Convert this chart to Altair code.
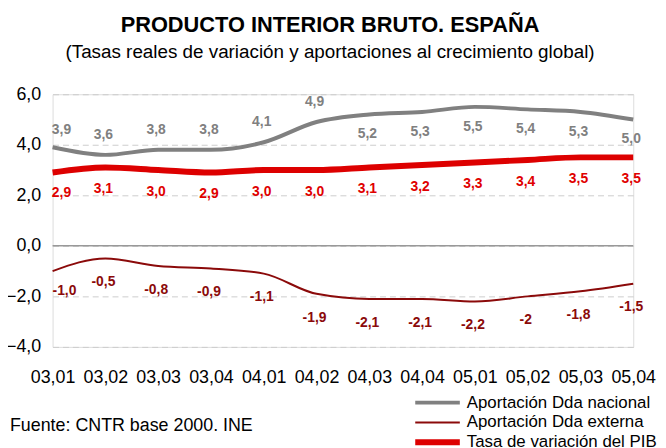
import altair as alt
import pandas as pd

QUARTERS = ["03,01", "03,02", "03,03", "03,04", "04,01", "04,02",
            "04,03", "04,04", "05,01", "05,02", "05,03", "05,04"]
NACIONAL = [3.9, 3.6, 3.8, 3.8, 4.1, 4.9, 5.2, 5.3, 5.5, 5.4, 5.3, 5.0]
EXTERNA = [-1.0, -0.5, -0.8, -0.9, -1.1, -1.9, -2.1, -2.1, -2.2, -2.0, -1.8, -1.5]
PIB = [2.9, 3.1, 3.0, 2.9, 3.0, 3.0, 3.1, 3.2, 3.3, 3.4, 3.5, 3.5]
NACIONAL_LABELS = ["3,9", "3,6", "3,8", "3,8", "4,1", "4,9", "5,2", "5,3", "5,5", "5,4", "5,3", "5,0"]
EXTERNA_LABELS = ["-1,0", "-0,5", "-0,8", "-0,9", "-1,1", "-1,9", "-2,1", "-2,1", "-2,2", "-2", "-1,8", "-1,5"]
PIB_LABELS = ["2,9", "3,1", "3,0", "2,9", "3,0", "3,0", "3,1", "3,2", "3,3", "3,4", "3,5", "3,5"]
SERIES = ["Aportación Dda nacional", "Aportación Dda externa", "Tasa de variación del PIB"]
COLORS = ["#808080", "#8B0A0A", "#DD0000"]
WIDTHS = [4, 2, 6]
Y_TICKS = [-4, -2, 0, 2, 4, 6]
TITLE = "PRODUCTO INTERIOR BRUTO. ESPAÑA"
SUBTITLE = "(Tasas reales de variación y aportaciones al crecimiento global)"
SOURCE = "Fuente: CNTR base 2000. INE"

FONT = "Liberation Sans"

rows = []
for name, vals, labs in zip(SERIES, [NACIONAL, EXTERNA, PIB],
                            [NACIONAL_LABELS, EXTERNA_LABELS, PIB_LABELS]):
    for i, (q, v, l) in enumerate(zip(QUARTERS, vals, labs)):
        rows.append({"q": q, "i": i, "serie": name, "v": v, "label": l})
df = pd.DataFrame(rows)

x_enc = alt.X("q:O", sort=QUARTERS, title=None,
              scale=alt.Scale(type="point", padding=0),
              axis=alt.Axis(labelAngle=0, labelFont=FONT, labelFontSize=18,
                            labelColor="black", ticks=False, tickSize=0,
                            domain=False, grid=False, labelPadding=22))
y_enc = alt.Y("v:Q", title=None,
              scale=alt.Scale(domain=[-4, 6], nice=False, zero=False),
              axis=alt.Axis(values=Y_TICKS, labelFont=FONT, labelFontSize=18,
                            labelColor="black", ticks=False, tickSize=0,
                            domain=False, grid=True, gridColor="#cccccc",
                            gridDash=[6, 4], gridWidth=1, labelPadding=12,
                            labelExpr="replace(format(datum.value, '.1f'), '.', ',')"))

base = alt.Chart(df)

leg = alt.Legend(title=None, orient="none", legendX=363, legendY=301.5,
                 symbolType="stroke", symbolSize=2025, labelFont=FONT,
                 labelFontSize=17, labelColor="black", labelOffset=4,
                 clipHeight=19.5, rowPadding=0, padding=0, labelLimit=400)

zero = alt.Chart(pd.DataFrame({"z": [0]})).mark_rule(
    color="#999999", strokeWidth=1.5).encode(y=alt.Y("z:Q", scale=alt.Scale(domain=[-4, 6])))

lines = base.mark_line(interpolate="monotone").encode(
    x=x_enc, y=y_enc,
    color=alt.Color("serie:N", scale=alt.Scale(domain=SERIES, range=COLORS), legend=leg),
    strokeWidth=alt.StrokeWidth("serie:N",
                                scale=alt.Scale(type="ordinal", domain=SERIES, range=WIDTHS),
                                legend=leg),
)


def labels(serie, color, dy, cond=None, dx=-2):
    ch = base.transform_filter(alt.datum.serie == serie)
    if cond is not None:
        ch = ch.transform_filter(cond)
    return ch.mark_text(font=FONT, fontSize=14, fontWeight="bold", color=color,
                        dy=dy, dx=dx, baseline="middle").encode(
        x=alt.X("q:O", sort=QUARTERS), y=alt.Y("v:Q"), text="label:N")


first = alt.datum.i == 0
t_nac_0 = labels(SERIES[0], COLORS[0], -17, first, dx=9)
t_nac_up = labels(SERIES[0], COLORS[0], -20, (alt.datum.i > 0) & (alt.datum.i < 6))
t_nac_dn = labels(SERIES[0], COLORS[0], 20, alt.datum.i >= 6)
t_ext_0 = labels(SERIES[1], "#8B0A0A", 20, first, dx=12)
t_ext = labels(SERIES[1], "#8B0A0A", 24, alt.datum.i > 0)
t_pib_0 = labels(SERIES[2], "#E00000", 21, first, dx=9)
t_pib = labels(SERIES[2], "#E00000", 22, alt.datum.i > 0)

title = alt.Chart(pd.DataFrame({"t": [TITLE]})).mark_text(
    font=FONT, fontSize=22, fontWeight="bold", color="black",
    align="center", baseline="alphabetic").encode(
    text="t:N", x=alt.value(280), y=alt.value(-63))
subtitle = alt.Chart(pd.DataFrame({"t": [SUBTITLE]})).mark_text(
    font=FONT, fontSize=19, color="black",
    align="center", baseline="alphabetic").encode(
    text="t:N", x=alt.value(280), y=alt.value(-37))
source = alt.Chart(pd.DataFrame({"t": [SOURCE]})).mark_text(
    font=FONT, fontSize=18, color="black",
    align="left", baseline="alphabetic").encode(
    text="t:N", x=alt.value(-43), y=alt.value(340))

chart = alt.layer(zero, lines, t_nac_0, t_nac_up, t_nac_dn, t_ext_0, t_ext,
                  t_pib_0, t_pib, title, subtitle, source).properties(
    width=586, height=255,
    autosize=alt.AutoSizeParams(type="none"),
    padding={"left": 45, "top": 85, "right": 25, "bottom": 100},
).configure_view(stroke=None).configure(background="white")

chart.save("out.html", embed_options={"renderer": "svg", "actions": False})
